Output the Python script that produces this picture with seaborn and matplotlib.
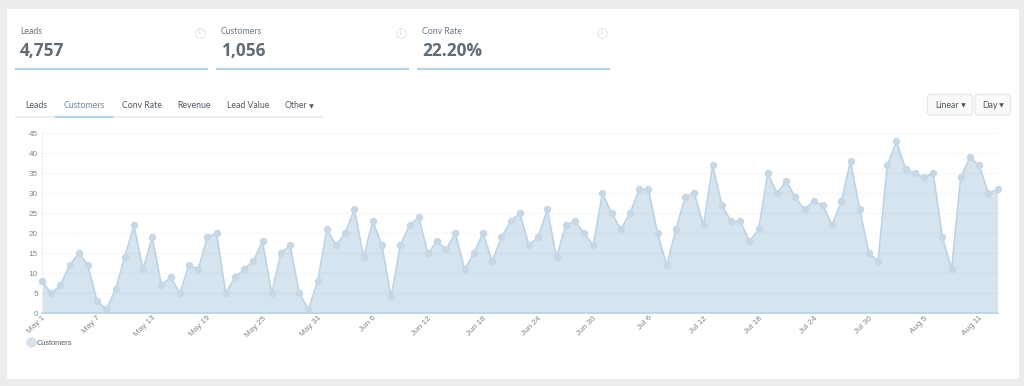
import numpy as np
import pandas as pd
import seaborn as sb
import matplotlib.pyplot as plt
from matplotlib.lines import Line2D
from matplotlib.patches import FancyBboxPatch, Rectangle
sb.set_style("white")
plt.rcParams['font.family'] = ['Lato', 'DejaVu Sans']

W, H = 1024, 386

# data
may = [8,5,7,12,15,12,3,1,6,14,22,11,19,7,9,5,12,11,19,20,5,9,11,13,18,5,15,17,5,1,8]
jun = [21,17,20,26,14,23,17,4,17,22,24,15,18,16,20,11,15,20,13,19,23,25,17,19,26,14,22,23,20,17]
jul = [30,25,21,25,31,31,20,12,21,29,30,22,37,27,23,23,18,21,35,30,33,29,26,28,27,22,28,38,26,15,13]
aug = [37,43,36,35,34,35,19,11,34,39,37,30,31]
customers = may + jun + jul + aug
days = pd.date_range("2023-05-01", periods=len(customers), freq="D")
tick_every = 6
y_ticks = [0,5,10,15,20,25,30,35,40,45]

stat_names = ["Leads", "Customers", "Conv Rate"]
stat_values = ["4,757", "1,056", "22.20%"]
tab_names = ["Leads", "Customers", "Conv Rate", "Revenue", "Lead Value", "Other"]

# colors
page = "#ececec"
fill = "#d6e4ef"
line = "#bdd3e3"
marker = "#c6d8e5"
underline = "#b8d0e0"
text_dark = "#5f6b75"
text_mid = "#6b7883"

df = pd.DataFrame({"day": days, "customers": customers})

fig = plt.figure(figsize=(W / 100, H / 100), dpi=100, facecolor=page)

# background layer in pixel coords, y going down
bg = fig.add_axes([0, 0, 1, 1])
bg.set_xlim(0, W)
bg.set_ylim(H, 0)
bg.axis("off")
bg.add_patch(Rectangle((6.5, 8.5), 1012.5, 370, fc="white", ec="none"))

# stat cards
card_x = [15, 216, 417]
for i in range(3):
    x0 = card_x[i]
    bg.text(x0 + 5, 31.5, stat_names[i], fontsize=6.3, color=text_mid, va="center")
    bg.text(x0 + 5, 50.5, stat_values[i], fontsize=12.4, color=text_dark, va="center", fontweight="bold",
            family="Open Sans")
    bg.plot([x0, x0 + 192.5], [68.8, 68.8], color=underline, lw=1.6, solid_capstyle="butt")
    bg.scatter([x0 + 184.5], [32.5], s=48, fc="white", ec="#e2e5e7", lw=0.7)
    bg.text(x0 + 184.5, 32.5, "i", fontsize=5, color="#c8cdd1", ha="center", va="center")

# tabs
tab_x = [25, 64, 121.5, 177, 227, 285]
bg.plot([15, 323], [117, 117], color="#e9eaeb", lw=1.2, solid_capstyle="butt")
bg.plot([55, 113], [117, 117], color=underline, lw=1.6, solid_capstyle="butt")
for i in range(len(tab_names)):
    c = "#74899a" if tab_names[i] == "Customers" else "#4f5a63"
    bg.text(tab_x[i], 105.5, tab_names[i], fontsize=6.3, color=c, va="center")
bg.scatter([310.5], [105.5], s=11, marker="v", color="#4f5a63", lw=0)

# dropdown buttons
for x0, w, label, tx, ax_ in [(927.5, 45, "Linear", 935, 963), (975, 35.5, "Day", 982, 1001)]:
    bg.add_patch(FancyBboxPatch((x0, 94.5), w, 20.5, boxstyle="round,pad=0,rounding_size=2.5",
                                fc="#fafafa", ec="#e6e7e8", lw=0.9))
    bg.text(tx, 105, label, fontsize=6.3, color="#4f5a63", va="center")
    bg.scatter([ax_], [105], s=11, marker="v", color="#4f5a63", lw=0)

# chart
left, right, top, bottom = 42, 997.5, 133.3, 313.3
ax = fig.add_axes([left / W, 1 - bottom / H, (right - left) / W, (bottom - top) / H])
ax.patch.set_alpha(0)
ax.fill_between(df["day"], df["customers"], 0, color=fill, lw=0, zorder=1)
ax.set_axisbelow(False)
ax.yaxis.grid(True, color="#000000", alpha=0.03, lw=0.9, zorder=2)
sb.lineplot(data=df, x="day", y="customers", ax=ax, color=line, lw=1.2, marker="o",
            markersize=4.6, markerfacecolor=marker, markeredgecolor=marker, zorder=3, clip_on=False)
ax.set_xlim(days[0], days[-1])
ax.set_ylim(0, 45)
ax.set_xlabel("")
ax.set_ylabel("")
ax.set_yticks(y_ticks)
ax.set_xticks(days[::tick_every])
ax.set_xticklabels([d.strftime("%b ") + str(d.day) for d in days[::tick_every]],
                   rotation=45, ha="right", rotation_mode="anchor")
ax.tick_params(axis="both", length=0, labelsize=5.9, labelcolor="#7d8790", pad=3,
               labelfontfamily="Liberation Sans")
ax.tick_params(axis="x", pad=1)
for s in ["top", "right"]:
    ax.spines[s].set_visible(False)
ax.spines["left"].set_color("#eeeeee")
ax.spines["left"].set_linestyle(":")
ax.spines["left"].set_linewidth(0.8)
ax.spines["bottom"].set_color("#b9d2e4")
ax.spines["bottom"].set_linewidth(1.1)

# legend
handle = Line2D([], [], ls="none", marker="o", markersize=6.5, color="#d3e2ed")
leg = ax.legend([handle], ["Customers"], loc="center left", frameon=False, handletextpad=0.15,
                handlelength=1.2, bbox_to_anchor=((27 - left) / (right - left), (bottom - 343.5) / (bottom - top)),
                prop={"family": "Liberation Sans", "size": 5.3}, borderpad=0, borderaxespad=0)
leg.get_texts()[0].set_color("#555f68")

fig.savefig("out.png", dpi=100, facecolor=fig.get_facecolor())
